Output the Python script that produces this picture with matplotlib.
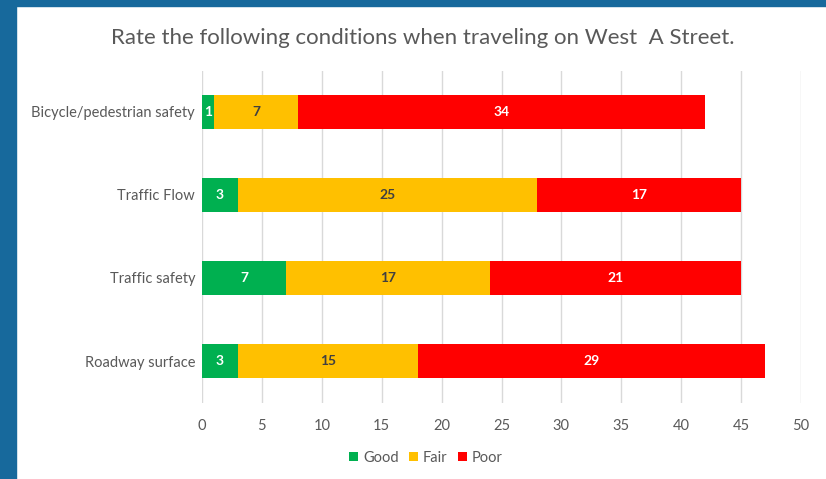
import matplotlib
matplotlib.use("Agg")
import matplotlib.pyplot as plt
from matplotlib.patches import Rectangle
import numpy as np

categories = ["Bicycle/pedestrian safety", "Traffic Flow", "Traffic safety", "Roadway surface"]
good = [1, 3, 7, 3]
fair = [7, 25, 17, 15]
poor = [34, 17, 21, 29]
series_names = ["Good", "Fair", "Poor"]
colors = ["#00B050", "#FFC000", "#FF0000"]
label_colors = ["white", "#404040", "white"]
xticks = [0, 5, 10, 15, 20, 25, 30, 35, 40, 45, 50]

plt.rcParams['font.family'] = ['Lato', 'DejaVu Sans']

fig = plt.figure(figsize=(8.26, 4.79), dpi=100)
W, H = 826, 479
# blue frame
fig.patches.append(Rectangle((0, 0), 16 / W, 1, transform=fig.transFigure, color="#17699C", zorder=0))
fig.patches.append(Rectangle((0, 1 - 6 / H), 1, 6 / H, transform=fig.transFigure, color="#17699C", zorder=0))

ax = fig.add_axes([202 / W, 1 - 402.5 / H, (801 - 202) / W, (402.5 - 70.5) / H])
y = np.arange(len(categories))
left = np.zeros(len(categories))
data = [good, fair, poor]
for vals, name, c, lc in zip(data, series_names, colors, label_colors):
    vals = np.array(vals, dtype=float)
    bars = ax.barh(y, vals, left=left, height=0.41, color=c, label=name, zorder=3)
    for b, v in zip(bars, vals):
        ax.text(b.get_x() + b.get_width() / 2, b.get_y() + b.get_height() / 2, f"{int(v)}",
                ha="center", va="center", color=lc, fontsize=10, fontweight="bold", zorder=4)
    left += vals

ax.set_xlim(0, 50)
ax.set_ylim(len(categories) - 0.5, -0.5)
ax.set_xticks(xticks)
ax.set_yticks(y)
ax.set_yticklabels(categories)
ax.grid(axis="x", color="#D9D9D9", linewidth=1, zorder=0)
for s in ax.spines.values():
    s.set_visible(False)
ax.tick_params(axis="both", length=0, colors="#595959", labelsize=10.5)
ax.tick_params(axis="x", pad=12)
ax.tick_params(axis="y", pad=5)

fig.text(423 / W, 1 - 38 / H, "Rate the following conditions when traveling on West  A Street.",
         ha="center", va="center", fontsize=16, color="#595959")

handles, labels = ax.get_legend_handles_labels()
fig.legend(handles, labels, loc="center", bbox_to_anchor=(426 / W, 1 - 458 / H), ncol=3,
           frameon=False, fontsize=10.5, handlelength=0.6, handleheight=0.6, handletextpad=0.35,
           columnspacing=0.7, labelcolor="#595959")

fig.savefig("out.png", dpi=100)
